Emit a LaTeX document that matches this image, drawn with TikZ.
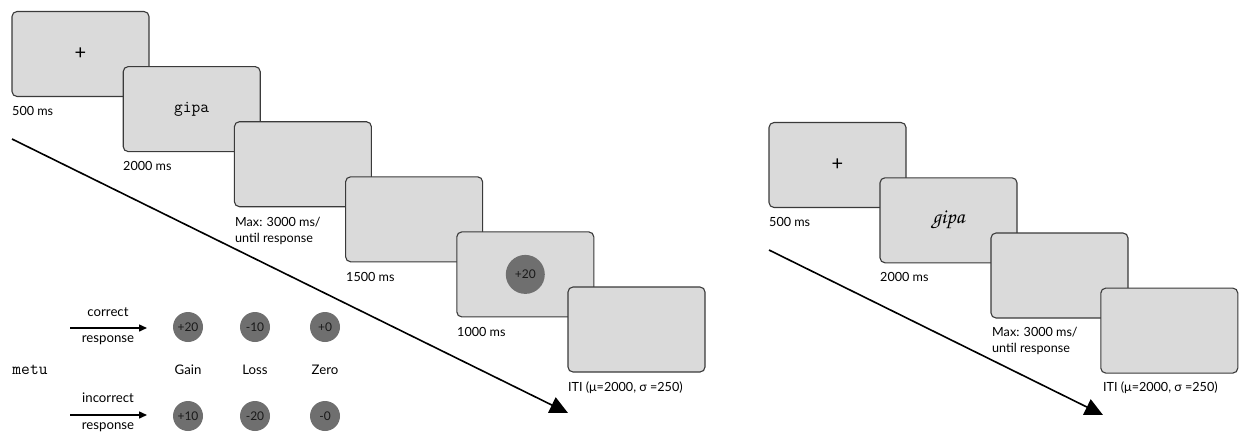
\documentclass[tikz,border=0pt]{standalone}
\usepackage[T1]{fontenc}
\usepackage{fontspec}
\setmainfont{Lato}
\usetikzlibrary{arrows.meta}
\definecolor{boxfill}{HTML}{DADADA}
\definecolor{boxline}{HTML}{3A3A3A}
\definecolor{dotfill}{HTML}{6F6F6F}
\newcommand{\scriptword}[1]{{\fontencoding{T1}\fontfamily{pzc}\fontseries{mb}\fontshape{it}\fontsize{21}{22}\selectfont #1}}
\begin{document}
\begin{tikzpicture}[x=1pt,y=-1pt,
  screen/.style={draw=boxline, line width=1.1pt, fill=boxfill, rounded corners=5pt,
    minimum width=137pt, minimum height=85pt, inner sep=0pt},
  lbl/.style={anchor=base west, inner sep=0pt, font=\fontsize{12.6}{16}\selectfont},
  dot/.style={circle, fill=dotfill, inner sep=0pt, text=black!90, font=\fontsize{12}{13}\selectfont},
  bigdot/.style={dot, minimum size=39pt},
  smalldot/.style={dot, minimum size=30pt},
  legtxt/.style={inner sep=0pt, font=\fontsize{13.2}{14}\selectfont},
  timeline/.style={line width=1.6pt, -{Triangle[length=18pt,width=17pt]}},
  resp/.style={line width=1.5pt, -{Triangle[length=8pt,width=7pt]}},
  plusmark/.style={inner sep=0pt, font=\fontsize{20}{20}\selectfont},
  wordmono/.style={inner sep=0pt, font=\ttfamily\fontsize{17}{18}\selectfont}
]
\useasboundingbox (0,0) rectangle (1239,431);

% ---------- left sequence ----------
\coordinate (tlA) at (12,139);
\coordinate (tlB) at (568,413);
\draw[timeline] (tlA) -- (tlB);

\node[screen] (L1) at (80.5,54) {};
\node[plusmark] (L1p) at (L1.center) {+};
\node[lbl] (L1t) at (12,115) {500 ms};

\node[screen] (L2) at (191.7,109.1) {};
\node[wordmono] (L2w) at (L2.center) {gipa};
\node[lbl] (L2t) at (123,170) {2000 ms};

\node[screen] (L3) at (302.9,164.2) {};
\node[lbl] (L3t) at (235,226) {Max: 3000 ms/};
\node[lbl] (L3u) at (235,242) {until response};

\node[screen] (L4) at (414.1,219.3) {};
\node[lbl] (L4t) at (346,281) {1500 ms};

\node[screen] (L5) at (525.3,274.4) {};
\node[bigdot] (L5d) at (L5.center) {+20};
\node[lbl] (L5t) at (457,336) {1000 ms};

\node[screen] (L6) at (636.5,329.5) {};
\node[lbl] (L6t) at (568,391) {ITI (μ=2000, σ =250)};

% ---------- legend ----------
\coordinate (c1s) at (70,328);
\coordinate (c1e) at (147,328);
\draw[resp] (c1s) -- (c1e);
\node[legtxt] (c1a) at (108,312) {correct};
\node[legtxt] (c1b) at (108,340) {response};

\coordinate (c2s) at (70,415);
\coordinate (c2e) at (147,415);
\draw[resp] (c2s) -- (c2e);
\node[legtxt] (c2a) at (108,398) {incorrect};
\node[legtxt] (c2b) at (108,427) {response};

\node[wordmono] (metu) at (30,370) {metu};

\node[smalldot] (g1) at (188,327) {+20};
\node[smalldot] (l1) at (255,327) {-10};
\node[smalldot] (z1) at (325,327) {+0};
\node[legtxt] (gain) at (188,370) {Gain};
\node[legtxt] (loss) at (255,370) {Loss};
\node[legtxt] (zero) at (325,370) {Zero};
\node[smalldot] (g2) at (188,416) {+10};
\node[smalldot] (l2) at (255,416) {-20};
\node[smalldot] (z2) at (325,416) {-0};

% ---------- right sequence ----------
\coordinate (trA) at (769,250);
\coordinate (trB) at (1103,415);
\draw[timeline] (trA) -- (trB);

\node[screen] (R1) at (837.5,165) {};
\node[plusmark] (R1p) at (R1.center) {+};
\node[lbl] (R1t) at (769,226) {500 ms};

\node[screen] (R2) at (948.5,220.3) {};
\node[inner sep=0pt] (R2w) at (R2.center) {\scriptword{gipa}};
\node[lbl] (R2t) at (880,281) {2000 ms};

\node[screen] (R3) at (1059.5,275.5) {};
\node[lbl] (R3t) at (992,336) {Max: 3000 ms/};
\node[lbl] (R3u) at (992,352) {until response};

\node[screen] (R4) at (1169.3,330.6) {};
\node[lbl] (R4t) at (1103,391) {ITI (μ=2000, σ =250)};
\end{tikzpicture}
\end{document}
